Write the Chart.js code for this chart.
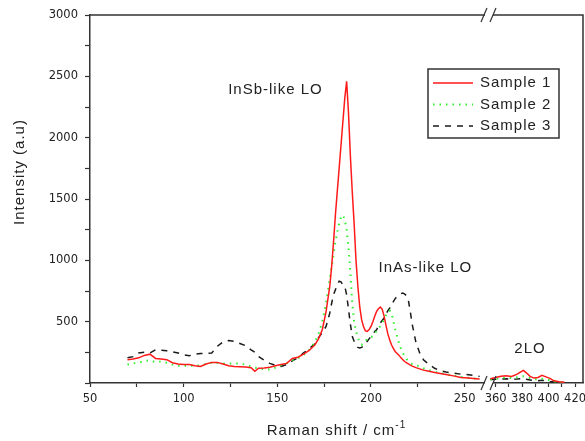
<!DOCTYPE html>
<html>
<head>
<meta charset="utf-8">
<script src="https://cdn.jsdelivr.net/npm/chart.js@4.4.1/dist/chart.umd.min.js"></script>
<style>
  html, body { margin: 0; padding: 0; background: #fff; }
</style>
</head>
<body>
<canvas id="myChart" width="585" height="441"></canvas>
<script>
// Raman shift (cm-1), low range before the axis break
const shiftLow = [70,73,76,79,82,85,88,91,94,97,100,103,106,109,112,115,118,121,124,127,130,133,136,
  138,140,143,146,149,152,155,158,161,164,167,170,172,174,176,178,
  179,180,181,182,183,184,185,186,187,188,189,190,191,192,193,194,195,196,197,198,199,200,
  201,202,203,204,205,206,207,208,209,210,211,212,213,214,215,216,217,218,219,220,221,222,
  224,226,228,231,234,237,240,244,248,252,256,258];
const sample1Low = [190,195,205,225,235,200,195,190,165,155,150,150,140,135,155,168,168,155,140,135,132,130,125,
  95,120,122,128,140,150,160,200,210,235,265,310,360,434,580,787,
  950,1150,1370,1560,1750,1940,2130,2320,2460,2200,1850,1560,1300,1000,787,620,516,460,425,421,435,461,
  500,545,584,605,619,600,545,470,400,350,310,280,255,240,225,205,190,175,165,155,145,138,
  125,115,105,95,85,78,70,58,45,40,35,33];
const sample2Low = [150,160,165,180,185,170,175,165,150,140,140,140,140,145,155,165,163,160,158,160,158,150,135,
  125,120,112,110,125,145,160,185,200,230,270,330,400,500,650,850,
  950,1050,1150,1230,1300,1350,1370,1330,1250,1100,900,650,500,420,370,330,312,320,340,360,367,375,
  380,400,425,450,461,490,520,550,575,590,570,500,434,380,320,280,245,217,195,180,165,155,
  145,135,120,105,92,82,72,60,50,42,36,33];
const sample3Low = [205,215,245,250,245,270,268,262,255,245,230,222,235,240,240,245,300,335,347,340,322,305,270,
  250,215,185,160,145,135,150,180,205,245,280,320,370,410,461,570,
  650,720,760,800,830,825,800,787,720,600,480,380,340,310,290,285,290,300,320,340,360,380,
  400,420,434,465,490,510,530,560,590,611,640,665,690,705,718,728,734,725,710,670,580,480,
  330,245,190,150,120,100,90,80,72,68,58,54];

// high range after the break (2LO region)
const shiftHigh = [356,360,364,368,372,376,379,381,383,386,389,392,395,398,401,404,408,412];
const sample1High = [35,45,55,60,54,70,90,103,85,54,40,45,62,50,38,18,10,6];
const sample2High = [30,35,40,45,40,45,50,55,50,40,32,30,35,30,22,12,6,4];
const sample3High = [28,30,32,35,30,32,35,38,30,25,20,18,22,18,12,8,5,3];

const seriesNames = ['Sample 1', 'Sample 2', 'Sample 3'];
const yTicks = [500, 1000, 1500, 2000, 2500, 3000];
const xTicksLow = [50, 100, 150, 200, 250];
const xTicksHigh = [360, 380, 400, 420];

// peak labels, anchored in data units
const peakLabels = [
  {text: 'InSb-like LO', axis: 'x', x: 149, y: 2390},
  {text: 'InAs-like LO', axis: 'x', x: 229, y: 940},
  {text: '2LO', axis: 'x2', x: 386, y: 280}
];

const styles = [
  {color: '#ff1a1a', dash: [], width: 1.5},
  {color: '#2ef02e', dash: [1.5, 5], width: 2},
  {color: '#1a1a1a', dash: [6, 6], width: 1.5}
];

function pts(xs, ys) {
  return xs.map((x, i) => ({x: x, y: ys[i]}));
}

const lowSets = [sample1Low, sample2Low, sample3Low];
const highSets = [sample1High, sample2High, sample3High];
const datasets = [];
seriesNames.forEach((name, i) => {
  const s = styles[i];
  datasets.push({label: name, data: pts(shiftLow, lowSets[i]), xAxisID: 'x', yAxisID: 'y',
    borderColor: s.color, borderDash: s.dash, borderWidth: s.width, pointRadius: 0, tension: 0, fill: false});
});
seriesNames.forEach((name, i) => {
  const s = styles[i];
  datasets.push({label: name + ' (high)', data: pts(shiftHigh, highSets[i]), xAxisID: 'x2', yAxisID: 'y',
    borderColor: s.color, borderDash: s.dash, borderWidth: s.width, pointRadius: 0, tension: 0, fill: false});
});

const textFont = '"Liberation Sans", Arial, sans-serif';
const axisColor = '#333';

//frame, axis break, titles, peak labels and legend
const decorations = {
  id: 'decorations',
  afterDraw(chart) {
    const ctx = chart.ctx;
    const a = chart.chartArea;
    const brk = chart.scales.x.right;
    ctx.save();
    ctx.strokeStyle = axisColor;
    ctx.lineWidth = 1.5;
    ctx.beginPath();
    ctx.moveTo(a.left, a.top);
    ctx.lineTo(a.right, a.top);
    ctx.lineTo(a.right, a.bottom);
    ctx.stroke();

    [a.top, a.bottom].forEach(yy => {
      ctx.fillStyle = '#fff';
      ctx.fillRect(brk - 4, yy - 2, 8, 4);
      ctx.beginPath();
      ctx.moveTo(brk - 8, yy + 7);
      ctx.lineTo(brk - 2, yy - 7);
      ctx.moveTo(brk + 1, yy + 7);
      ctx.lineTo(brk + 7, yy - 7);
      ctx.lineWidth = 1.2;
      ctx.stroke();
    });

    ctx.fillStyle = '#222';
    ctx.letterSpacing = '1px';
    ctx.font = '15px ' + textFont;
    ctx.textBaseline = 'middle';
    ctx.textAlign = 'center';
    peakLabels.forEach(p => {
      const px = chart.scales[p.axis].getPixelForValue(p.x);
      const py = chart.scales.y.getPixelForValue(p.y);
      ctx.fillText(p.text, px, py);
    });

    // x title with superscript
    const main = 'Raman shift / cm';
    const sup = '-1';
    ctx.textBaseline = 'alphabetic';
    ctx.textAlign = 'left';
    ctx.font = '15px ' + textFont;
    const w1 = ctx.measureText(main).width;
    ctx.font = '10px ' + textFont;
    const w2 = ctx.measureText(sup).width;
    let tx = (a.left + a.right) / 2 - (w1 + w2) / 2;
    const ty = a.bottom + 52;
    ctx.font = '15px ' + textFont;
    ctx.fillText(main, tx, ty);
    ctx.font = '10px ' + textFont;
    ctx.fillText(sup, tx + w1, ty - 7);

    // y title
    ctx.save();
    ctx.translate(a.left - 70, a.top + 157);
    ctx.rotate(-Math.PI / 2);
    ctx.font = '15px ' + textFont;
    ctx.textAlign = 'center';
    ctx.textBaseline = 'middle';
    ctx.fillText('Intensity (a.u)', 0, 0);
    ctx.restore();

    // legend box
    const bx = a.right - 155, by = a.top + 54, bw = 131, bh = 69;
    ctx.strokeStyle = axisColor;
    ctx.lineWidth = 1.5;
    ctx.setLineDash([]);
    ctx.strokeRect(bx, by, bw, bh);
    ctx.font = '15px ' + textFont;
    ctx.textAlign = 'left';
    ctx.textBaseline = 'middle';
    seriesNames.forEach((name, i) => {
      const s = styles[i];
      const ly = by + 14 + i * 21.5;
      ctx.beginPath();
      ctx.strokeStyle = s.color;
      ctx.lineWidth = s.width;
      ctx.setLineDash(s.dash);
      ctx.moveTo(bx + 5, ly);
      ctx.lineTo(bx + 45, ly);
      ctx.stroke();
      ctx.setLineDash([]);
      ctx.fillStyle = '#222';
      ctx.fillText(name, bx + 52, ly);
    });
    ctx.restore();
  }
};

const tickFont = {family: '"DejaVu Sans", Verdana, sans-serif', size: 11.5};

// keep tick labels from shrinking the plot area
function fixHeight(s) {
  s.height = 58;
  s.paddingLeft = 0;
  s.paddingRight = 0;
}

let myChart = new Chart(document.getElementById('myChart').getContext('2d'), {
  type: 'line',
  data: {datasets: datasets},
  plugins: [decorations],
  options: {
    responsive: false,
    animation: false,
    layout: {autoPadding: false, padding: {top: 15, right: 2, left: 0, bottom: 0}},
    plugins: {
      legend: {display: false},
      tooltip: {enabled: false}
    },
    scales: {
      x: {
        type: 'linear', position: 'bottom', stack: 'shift', stackWeight: 399,
        min: 50, max: 263,
        afterFit: fixHeight,
        border: {color: axisColor, width: 1.5},
        grid: {drawOnChartArea: false, tickLength: 4, tickColor: axisColor, tickWidth: 1.2},
        ticks: {stepSize: 25, includeBounds: false, autoSkip: false, maxRotation: 0, padding: 5,
          color: '#222', font: tickFont,
          callback: v => xTicksLow.includes(v) ? String(v) : ''}
      },
      x2: {
        type: 'linear', position: 'bottom', stack: 'shift', stackWeight: 94,
        min: 355, max: 426,
        afterFit: fixHeight,
        border: {color: axisColor, width: 1.5},
        grid: {drawOnChartArea: false, tickLength: 4, tickColor: axisColor, tickWidth: 1.2},
        ticks: {stepSize: 10, includeBounds: false, autoSkip: false, maxRotation: 0, padding: 5,
          color: '#222', font: tickFont,
          callback: v => xTicksHigh.includes(v) ? String(v) : ''}
      },
      y: {
        type: 'linear', position: 'left', min: 0, max: 3000,
        afterFit: s => { s.width = 90; s.paddingTop = 0; s.paddingBottom = 0; },
        border: {color: axisColor, width: 1.5},
        grid: {drawOnChartArea: false, tickLength: 5, tickColor: axisColor, tickWidth: 1.2},
        ticks: {stepSize: 250, autoSkip: false, padding: 7, color: '#222', font: tickFont,
          callback: v => yTicks.includes(v) ? String(v) : ''}
      }
    }
  }
});
</script>
</body>
</html>
